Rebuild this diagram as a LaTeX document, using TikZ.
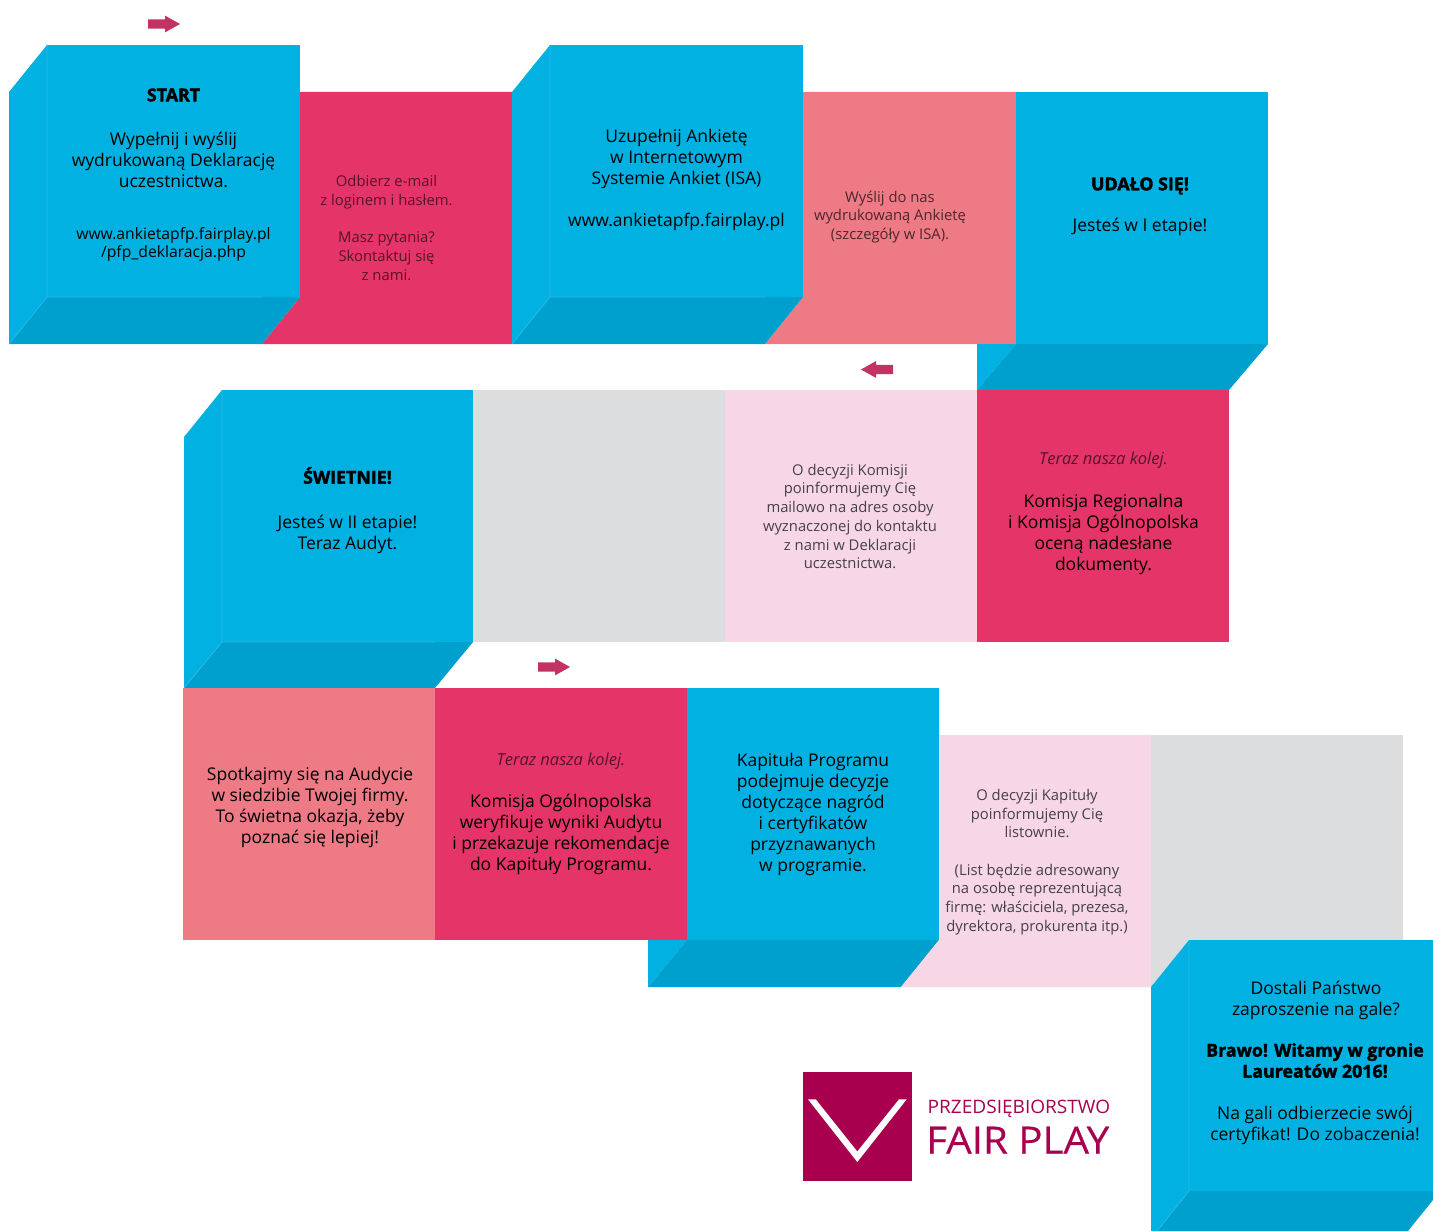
\documentclass[tikz,border=0pt]{standalone}
\usepackage{fontspec}
\setmainfont{Open Sans}[BoldFeatures={FakeBold=2}]
\definecolor{bluefront}{HTML}{00B1E2}
\definecolor{bluebottom}{HTML}{00A0CE}
\definecolor{blueedge}{HTML}{2EBBE6}
\definecolor{redbox}{HTML}{E53467}
\definecolor{salmon}{HTML}{EE7A85}
\definecolor{pinkbox}{HTML}{F7D6E6}
\definecolor{greybox}{HTML}{DCDDDF}
\definecolor{arrowcol}{HTML}{C23262}
\definecolor{logocol}{HTML}{A8004F}
\definecolor{inkdark}{HTML}{444246}
\tikzset{
 front/.style={fill=bluefront},
 sidef/.style={fill=bluefront},
 bottomf/.style={fill=bluebottom},
 edgeline/.style={draw=blueedge,line width=0.7pt},
 body/.style={align=center,inner sep=0pt,font=\fontsize{17.5}{21}\selectfont,text=black},
 headb/.style={align=center,inner sep=0pt,font=\bfseries\fontsize{17.8}{21}\selectfont,text=black},
 url/.style={align=center,inner sep=0pt,font=\fontsize{15.7}{18.5}\selectfont,text=black},
 thin/.style={align=center,inner sep=0pt,font=\fontsize{14.8}{18.7}\selectfont},
 thinit/.style={align=center,inner sep=0pt,font=\itshape\fontsize{16.5}{19}\selectfont},
 logotxt/.style={inner sep=0pt,anchor=base west,text=logocol},
}
\newfontfamily\logoa[FakeStretch=1.03]{Open Sans}
\newfontfamily\logob[FakeStretch=1.075,FakeBold=0.3]{Open Sans}
\newcommand{\rightarrowshape}[2]{\fill[arrowcol] (#1,#2-4.7) -- (#1+17,#2-4.7) -- (#1+17,#2-8.4) -- (#1+32,#2) -- (#1+17,#2+8.4) -- (#1+17,#2+4.7) -- (#1,#2+4.7) -- cycle;}
\newcommand{\leftarrowshape}[2]{\fill[arrowcol] (#1,#2-4.7) -- (#1-17,#2-4.7) -- (#1-17,#2-8.4) -- (#1-32,#2) -- (#1-17,#2+8.4) -- (#1-17,#2+4.7) -- (#1,#2+4.7) -- cycle;}
\begin{document}
\begin{tikzpicture}[x=1pt,y=-1pt]
\useasboundingbox (0,0) rectangle (1433,1231);
% arrows
\rightarrowshape{148}{24}
\leftarrowshape{893}{369.5}
\rightarrowshape{538}{667}
% row 1
\fill[redbox] (300,92) -- (512,92) -- (512,344) -- (262,344) -- (300,297) -- cycle;
\fill[salmon] (803,92) -- (1016,92) -- (1016,344) -- (765,344) -- (803,297) -- cycle;
\fill[sidef] (9,92) -- (47,45) -- (47,297) -- (9,344) -- cycle;
\fill[bottomf] (9,344) -- (47,297) -- (300,297) -- (262,344) -- cycle;
\fill[front] (47,45) rectangle (300,297);
\draw[edgeline] (47,45) -- (47,297) -- (262,297) (47,297) -- (9,344);
\fill[sidef] (512,92) -- (550,45) -- (550,297) -- (512,344) -- cycle;
\fill[bottomf] (512,344) -- (550,297) -- (803,297) -- (765,344) -- cycle;
\fill[front] (550,45) rectangle (803,297);
\draw[edgeline] (550,45) -- (550,297) -- (765,297) (550,297) -- (512,344);
\fill[front] (1016,92) rectangle (1268,344);
\fill[sidef] (977,344) -- (1016,344) -- (977,390) -- cycle;
\fill[bottomf] (977,390) -- (1016,344) -- (1268,344) -- (1229,390) -- cycle;
% row 2
\fill[greybox] (473,390) rectangle (725,642);
\fill[pinkbox] (725,390) rectangle (977,642);
\fill[redbox] (977,390) rectangle (1229,642);
\fill[sidef] (184,437) -- (222,390) -- (222,642) -- (184,688) -- cycle;
\fill[bottomf] (184,688) -- (222,642) -- (473,642) -- (435,688) -- cycle;
\fill[front] (222,390) rectangle (473,642);
\draw[edgeline] (222,390) -- (222,642) -- (435,642) (222,642) -- (184,688);
% row 3
\fill[salmon] (183,688) rectangle (435,940);
\fill[redbox] (435,688) rectangle (687,940);
\fill[front] (687,688) rectangle (939,940);
\fill[sidef] (648,940) -- (687,940) -- (648,987) -- cycle;
\fill[bottomf] (648,987) -- (687,940) -- (939,940) -- (901,987) -- cycle;
\fill[pinkbox] (939,735) -- (1151,735) -- (1151,987) -- (901,987) -- (939,940) -- cycle;
\fill[greybox] (1151,735) -- (1403,735) -- (1403,940) -- (1189,940) -- (1151,987) -- cycle;
% last box
\fill[sidef] (1151,987) -- (1189,940) -- (1189,1191) -- (1157,1231) -- (1151,1231) -- cycle;
\fill[bottomf] (1157,1231) -- (1189,1191) -- (1433,1191) -- (1433,1200) -- (1408,1231) -- cycle;
\fill[front] (1189,940) rectangle (1433,1191);
\draw[edgeline] (1189,940) -- (1189,1191) -- (1157,1231);
% logo
\fill[logocol] (803,1072) rectangle (912,1181);
\fill[white] (808,1099.3) -- (815.7,1099.3) -- (857.3,1151.5) -- (899,1099.3) -- (906.7,1099.3) -- (857.3,1162) -- cycle;
\node[logotxt,font=\logoa\fontsize{18.5}{20}\selectfont] (logotop) at (927.5,1113) {PRZEDSIĘBIORSTWO};
\node[logotxt,font=\logob\fontsize{37.5}{40}\selectfont] (logobig) at (926,1153.5) {FAIR PLAY};
% texts
\node[headb] (t1a) at (173.5,95) {START};
\node[body] (t1b) at (173.5,160) {Wypełnij i wyślij\\wydrukowaną Deklarację\\uczestnictwa.};
\node[url] (t1c) at (173.5,244.5) {www.ankietapfp.fairplay.pl\\/pfp\_deklaracja.php};
\node[thin,text=redbox!38!black] (t2) at (386.5,228) {Odbierz e-mail\\z loginem i hasłem.\\[18.7pt]Masz pytania?\\Skontaktuj się\\z nami.};
\node[body] (t3a) at (676.5,158.5) {Uzupełnij Ankietę\\w Internetowym\\Systemie Ankiet (ISA)};
\node[body] (t3b) at (676.5,221.5) {www.ankietapfp.fairplay.pl};
\node[thin,text=salmon!32!black] (t4) at (890,217) {Wyślij do nas\\wydrukowaną Ankietę\\(szczegóły w ISA).};
\node[headb] (t5a) at (1140,186) {UDAŁO SIĘ!};
\node[body] (t5b) at (1140,226.5) {Jesteś w I etapie!};
\node[headb] (t6a) at (347.5,475.5) {ŚWIETNIE!};
\node[body] (t6b) at (347.5,534) {Jesteś w II etapie!\\Teraz Audyt.};
\node[thin,text=inkdark] (t7) at (850,516.5) {O decyzji Komisji\\poinformujemy Cię\\mailowo na adres osoby\\wyznaczonej do kontaktu\\z nami w Deklaracji\\uczestnictwa.};
\node[thinit,text=redbox!38!black] (t8a) at (1103.5,460) {Teraz nasza kolej.};
\node[body] (t8b) at (1103.5,534) {Komisja Regionalna\\i Komisja Ogólnopolska\\oceną nadesłane\\dokumenty.};
\node[body] (t9) at (310,807.5) {Spotkajmy się na Audycie\\w siedzibie Twojej firmy.\\To świetna okazja, żeby\\poznać się lepiej!};
\node[thinit,text=redbox!38!black] (t10a) at (561,761) {Teraz nasza kolej.};
\node[body] (t10b) at (561,834) {Komisja Ogólnopolska\\weryfikuje wyniki Audytu\\i przekazuje rekomendacje\\do Kapituły Programu.};
\node[body] (t11) at (813,814.5) {Kapituła Programu\\podejmuje decyzje\\dotyczące nagród\\i certyfikatów\\przyznawanych\\w programie.};
\node[thin,text=inkdark] (t12) at (1037,862) {O decyzji Kapituły\\poinformujemy Cię\\listownie.\\[18.7pt](List będzie adresowany\\na osobę reprezentującą\\firmę: właściciela, prezesa,\\dyrektora, prokurenta itp.)};
\node[body] (t13a) at (1316,1000) {Dostali Państwo\\zaproszenie na gale?};
\node[headb] (t13b) at (1315,1060.5) {Brawo! Witamy w gronie\\Laureatów 2016!};
\node[body] (t13c) at (1315,1125.5) {Na gali odbierzecie swój\\certyfikat! Do zobaczenia!};
\end{tikzpicture}
\end{document}
